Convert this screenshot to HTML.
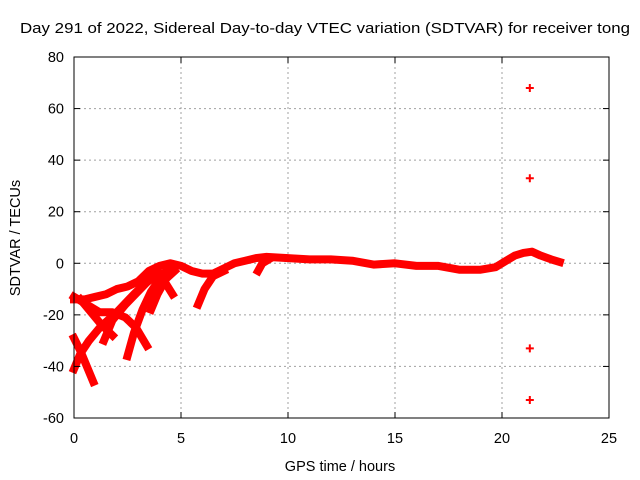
<!DOCTYPE html>
<html><head><meta charset="utf-8"><style>
body{margin:0;background:#fff;}
svg{display:block;font-family:"Liberation Sans",sans-serif;}
</style></head><body>
<svg id="chart" width="640" height="480" viewBox="0 0 640 480" xmlns="http://www.w3.org/2000/svg">
<rect width="640" height="480" fill="#fff"/>
<text x="325" y="33" text-anchor="middle" font-size="15" textLength="610" lengthAdjust="spacingAndGlyphs">Day 291 of 2022, Sidereal Day-to-day VTEC variation (SDTVAR) for receiver tong</text>
<g id="grid"></g>
<g id="series"></g>
<rect x="74" y="57" width="535" height="361" fill="none" stroke="#000" stroke-width="1"/>
<g id="ticks"></g>
<text x="340" y="471" text-anchor="middle" font-size="14.5">GPS time / hours</text>
<text x="0" y="0" transform="translate(20,238) rotate(-90)" text-anchor="middle" font-size="14.5">SDTVAR / TECUs</text>
</svg>
<script>
const xTicks=[0,5,10,15,20,25];
const yTicks=[-60,-40,-20,0,20,40,60,80];
// tracks: [hours...], [tecu...]
const track1X=[0,0.5,1,1.5,2,2.5,3,3.5,4,4.5,5,5.5,6,6.5,7,7.5,8,8.5,9,10,11,12,13,14,15,16,17,18,19,19.7,20.2,20.6,21,21.4,21.8,22.3,22.7];
const track1Y=[-14,-14,-13,-12,-10,-9,-7,-3,-1,0,-1,-3,-4,-4,-2,0,1,2,2.5,2,1.5,1.5,1,-0.5,0,-1,-1,-2.5,-2.5,-1.5,1,3,4,4.5,3,1.5,0.5];
const track2X=[0,0.3,0.6,0.9];
const track2Y=[-29,-34,-40,-46];
const track3X=[0,0.3,0.7,1.2,2,2.8,3.3,3.8];
const track3Y=[-41,-35,-30,-25,-19,-12,-8,-5];
const track4X=[0,0.6,1.2,1.8,2.4,2.9,3.4];
const track4Y=[-13,-16,-19,-19,-21,-25,-32];
const track5X=[2.5,2.8,3.2,3.6,4.1,4.5];
const track5Y=[-36,-27,-18,-11,-5,-1];
const track6X=[0.3,0.8,1.3,1.8];
const track6Y=[-14,-19,-24,-28];
const track7X=[1.4,1.8,2.4,3.1,3.8];
const track7Y=[-30,-22,-16,-10,-4];
const track8X=[3.6,3.9,4.3,4.7];
const track8Y=[-18,-12,-6,-3];
const track9X=[4.0,4.3,4.6];
const track9Y=[-4,-8,-12];
const track10X=[5.8,6.1,6.5,7.0];
const track10Y=[-16,-10,-5,-3];
const track11X=[8.6,8.8,9.1];
const track11Y=[-3,0,1.5];
const outX=[21.3,21.3,21.3,21.3];
const outY=[68,33,-33,-53];
const X0=74,X1=609,Y0=418,Y1=57;
const xs=v=>X0+(v-0)/(25-0)*(X1-X0);
const ys=v=>Y0-(v+60)/(140)*(Y0-Y1);
const NS="http://www.w3.org/2000/svg";
const grid=document.getElementById('grid'),ticks=document.getElementById('ticks'),ser=document.getElementById('series');
function mk(t,a,p){const e=document.createElementNS(NS,t);for(const k in a)e.setAttribute(k,a[k]);p.appendChild(e);return e;}
xTicks.forEach(v=>{const x=xs(v);
 if(v>0&&v<25){const g=mk('line',{x1:x,x2:x,y1:Y1,y2:Y0,stroke:'#a0a0a0','stroke-dasharray':'2,3'},grid);
 
 }
 mk('line',{x1:x,x2:x,y1:Y0,y2:Y0-6,stroke:'#000'},ticks);mk('line',{x1:x,x2:x,y1:Y1,y2:Y1+6,stroke:'#000'},ticks);
 const t=mk('text',{x:x,y:Y0+25,'text-anchor':'middle','font-size':'14.5'},ticks);t.textContent=v;
 
 });
yTicks.forEach(v=>{const y=ys(v);
 if(v>-60&&v<80){const g=mk('line',{x1:X0,x2:X1,y1:y,y2:y,stroke:'#a0a0a0','stroke-dasharray':'2,3'},grid);
 
 }
 mk('line',{x1:X0,x2:X0+6,y1:y,y2:y,stroke:'#000'},ticks);mk('line',{x1:X1,x2:X1-6,y1:y,y2:y,stroke:'#000'},ticks);
 const t=mk('text',{x:X0-10,y:y+5,'text-anchor':'end','font-size':'14.5'},ticks);t.textContent=v;
 
 });
const tracks=[[track1X,track1Y],[track2X,track2Y],[track3X,track3Y],[track4X,track4Y],[track5X,track5Y],[track6X,track6Y],[track7X,track7Y],[track8X,track8Y],[track9X,track9Y],[track10X,track10Y],[track11X,track11Y]];
tracks.forEach(([tx,ty])=>{const pts=tx.map((v,i)=>xs(v)+','+ys(ty[i])).join(' ');
 const p=mk('polyline',{points:pts,fill:'none',stroke:'#ff0000','stroke-width':8,'stroke-linejoin':'round','stroke-linecap':'square'},ser);
 
 });
outX.forEach((v,i)=>{const x=xs(v),y=ys(outY[i]);
 const p=mk('path',{d:`M${x-4},${y}H${x+4}M${x},${y-4}V${y+4}`,stroke:'#ff0000','stroke-width':2},ser);
 
 });
</script>
</body></html>
